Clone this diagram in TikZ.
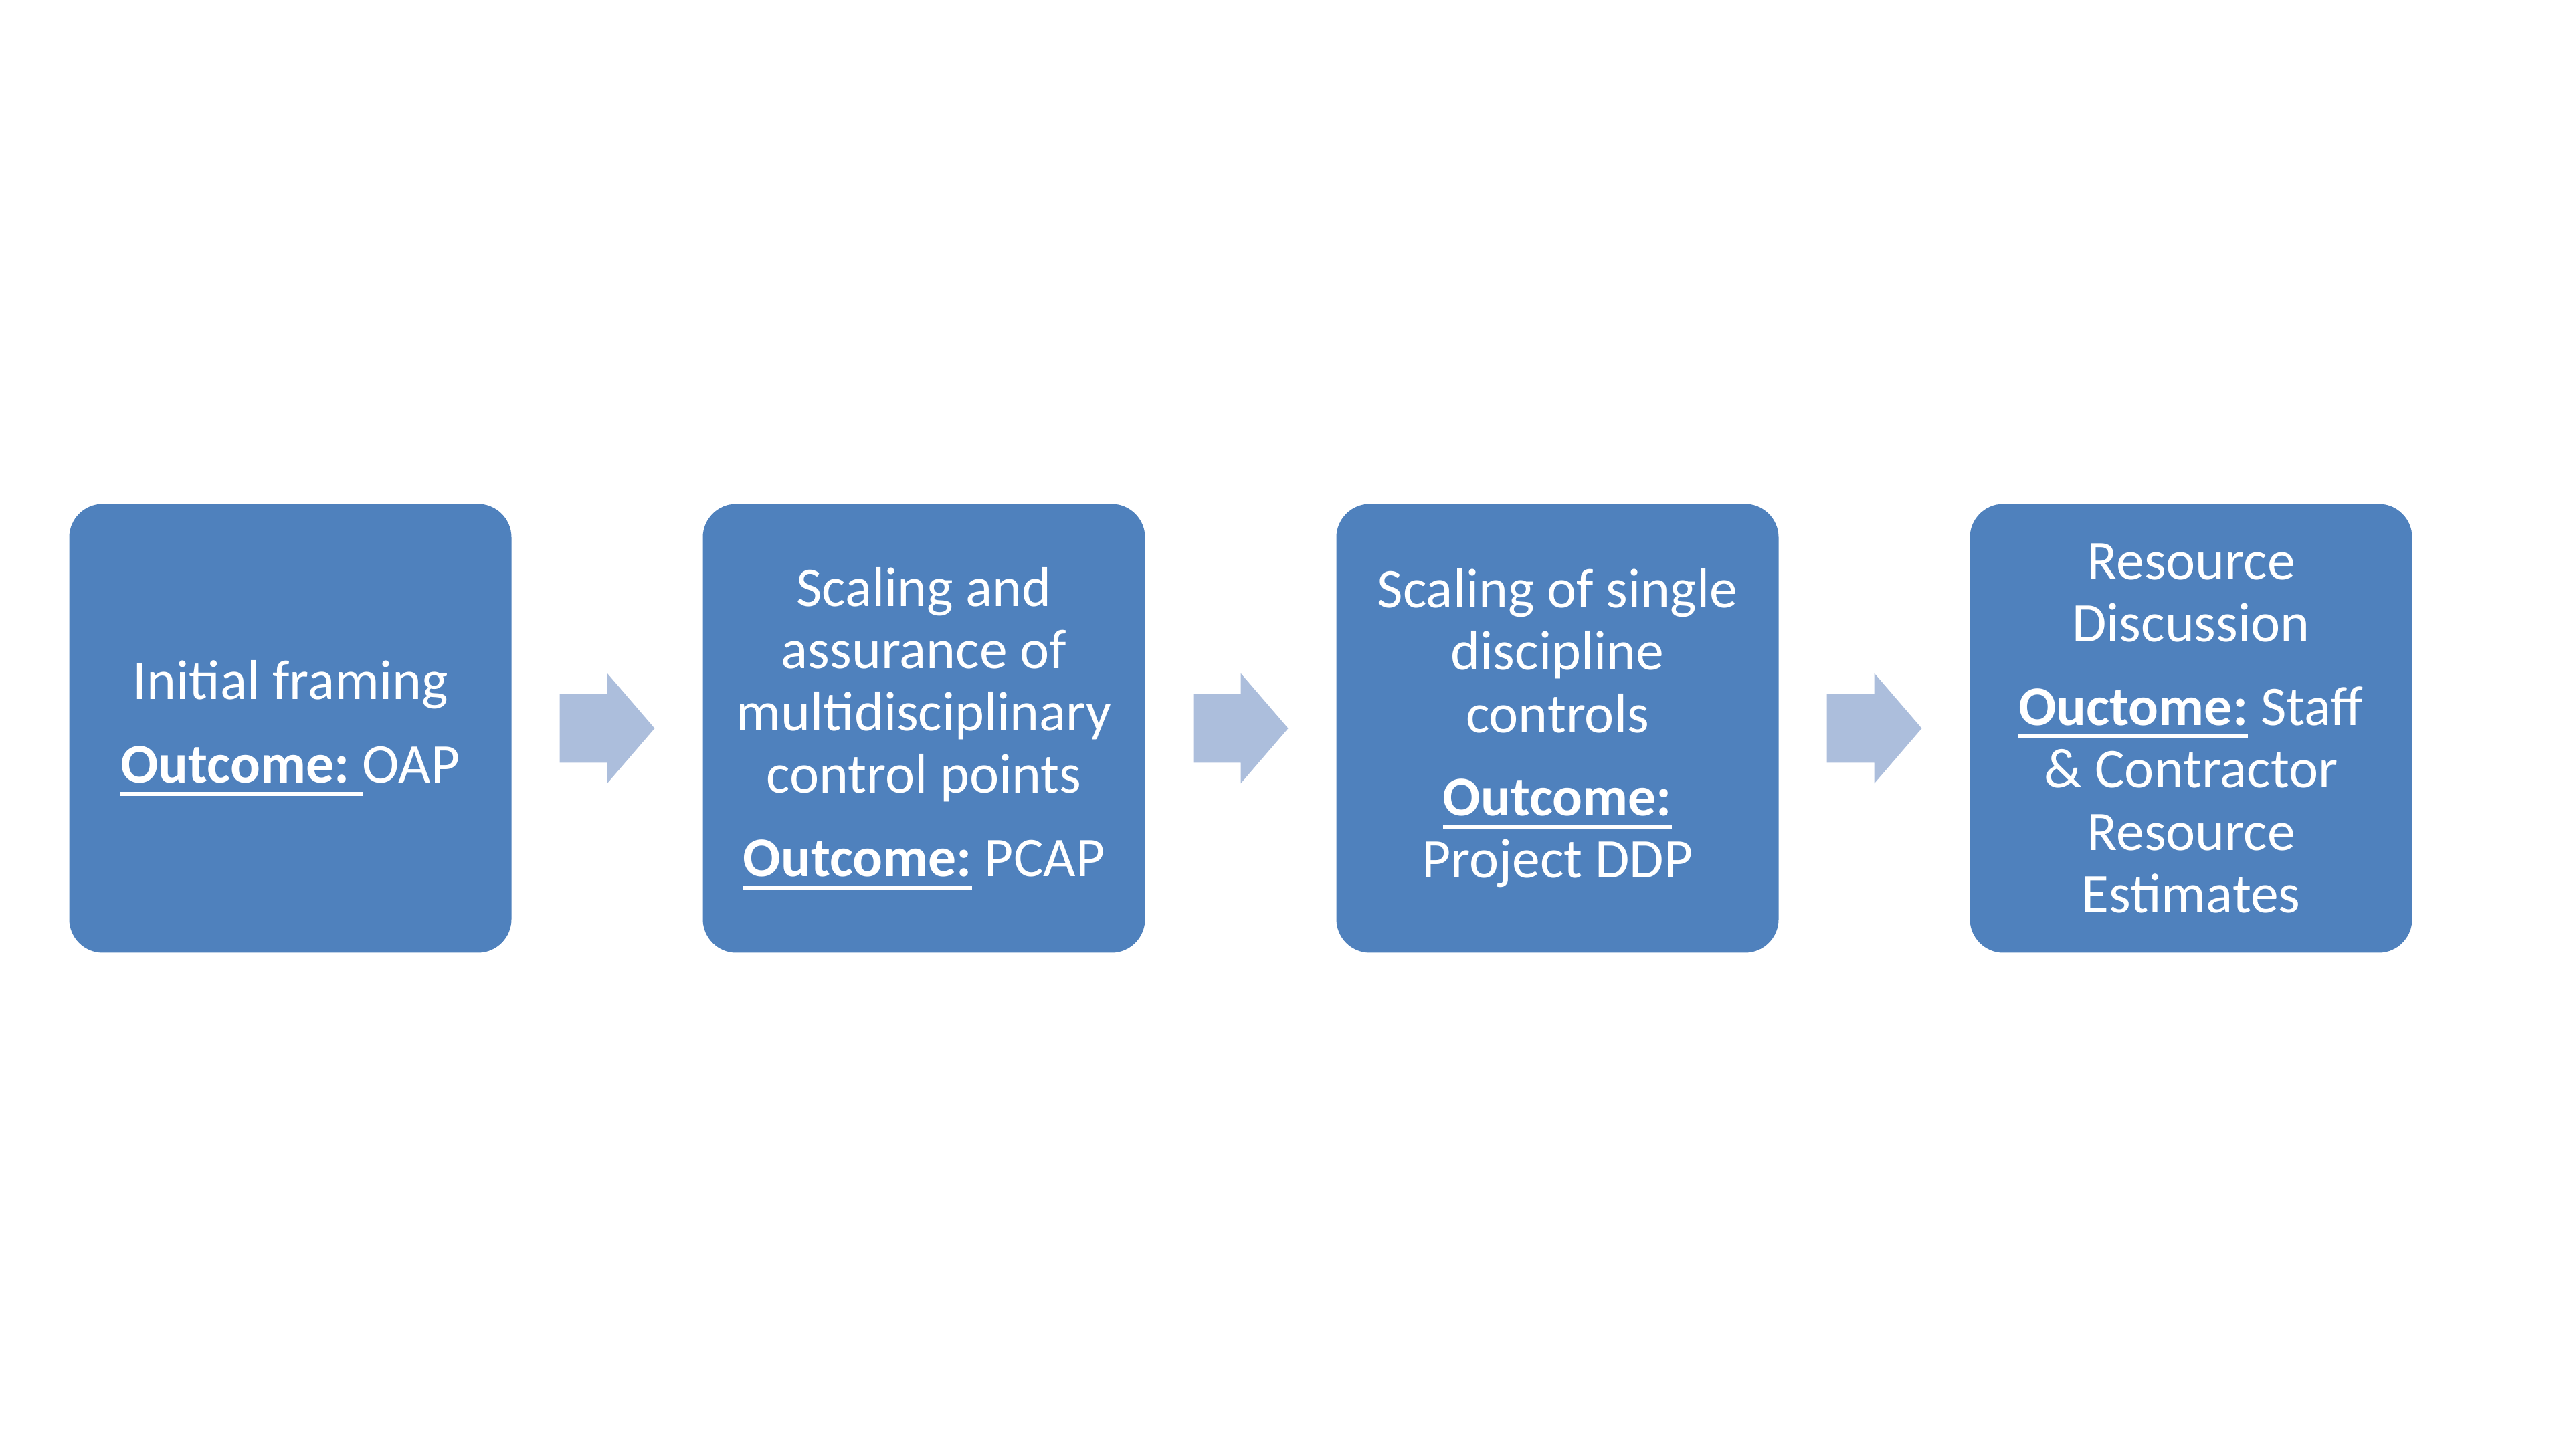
\documentclass[tikz,border=0pt]{standalone}
\usepackage{fontspec}
\setmainfont{Carlito}
\usetikzlibrary{calc}

\definecolor{stageblue}{RGB}{79,129,189}
\definecolor{flowblue}{RGB}{172,190,220}

\newsavebox\outbox
\newcommand\outc[1]{\sbox\outbox{\textbf{#1}}\rlap{\rule[-5.5pt]{\wd\outbox}{1.6pt}}\usebox\outbox}

\tikzset{
  stage/.style={fill=stageblue,rounded corners=0.5cm,minimum width=6.61cm,
    minimum height=6.71cm,inner sep=0pt,text=white,align=center,
    font=\fontsize{23.8}{26.5}\selectfont},
  flow/.style={fill=flowblue}
}

\begin{document}
\begin{tikzpicture}
\useasboundingbox (0,0) rectangle (38.4,21.77);

\node (frame) at (4.34,10.88)[stage]{Initial framing\\[9pt]\outc{Outcome:\ }OAP};

\node (assure) at (13.81,10.88)[stage]{Scaling and\\assurance of\\multidisciplinary\\control points\\[9pt]\outc{Outcome:} PCAP};

\node (single) at (23.28,10.88)[stage]{Scaling of single\\discipline\\controls\\[9pt]\outc{Outcome:}\\Project DDP};

\node (resource) at (32.75,10.88)[stage]{Resource\\Discussion\\[9pt]\outc{Ouctome:} Staff\\\& Contractor\\Resource\\Estimates};

% block arrows between the stages
\coordinate (a1) at ($(frame.east)!0.5!(assure.west)$);
\coordinate (a2) at ($(assure.east)!0.5!(single.west)$);
\coordinate (a3) at ($(single.east)!0.5!(resource.west)$);

\fill[flow] ($(a1)+(-0.71,-0.515)$) -- ++(0.71,0) -- ++(0,-0.31) -- ($(a1)+(0.71,0)$)
  -- ($(a1)+(0,0.825)$) -- ++(0,-0.31) -- ++(-0.71,0) -- cycle;
\fill[flow] ($(a2)+(-0.71,-0.515)$) -- ++(0.71,0) -- ++(0,-0.31) -- ($(a2)+(0.71,0)$)
  -- ($(a2)+(0,0.825)$) -- ++(0,-0.31) -- ++(-0.71,0) -- cycle;
\fill[flow] ($(a3)+(-0.71,-0.515)$) -- ++(0.71,0) -- ++(0,-0.31) -- ($(a3)+(0.71,0)$)
  -- ($(a3)+(0,0.825)$) -- ++(0,-0.31) -- ++(-0.71,0) -- cycle;

\end{tikzpicture}
\end{document}
